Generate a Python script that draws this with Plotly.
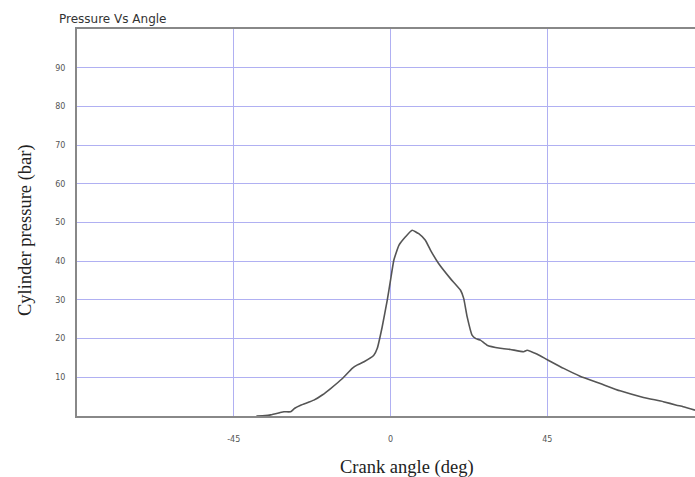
import plotly.graph_objects as go

crank_angle = [-38.5, -36, -34.4, -32, -30.6, -28.7, -27.5, -25.8, -22, -19.5, -17.2, -13.8, -11, -9.5, -7.6,
               -4.8, -3.8, -2.4, -0.95, 0, 0.96, 2.4, 4.3, 6.2, 8.1, 10, 11.5, 13.8, 17.2, 20.1, 21,
               22, 23.4, 24.5, 25.8, 27.7, 31.5, 34.4, 38.2, 39.2, 42, 44.9, 49.7, 54.4, 60.2,
               65.9, 72.6, 78.3, 82.1, 84, 87.4]
pressure = [0, 0.1, 0.3, 0.8, 1.1, 1.1, 2.0, 2.8, 4.1, 5.5, 7.1, 9.7, 12.3, 13.2, 14.0,
            15.7, 17.5, 23, 29.9, 35.1, 40.3, 44.1, 46.3, 48.0, 47.1, 45.4, 42.8, 39.4, 35.5, 32.5, 30.4,
            25.6, 20.9, 20.0, 19.6, 18.3, 17.5, 17.2, 16.6, 17.0, 16.0, 14.6, 12.3, 10.3, 8.4,
            6.5, 4.8, 3.7, 2.8, 2.4, 1.5]

x_ticks = [-45, 0, 45]
y_ticks = [10, 20, 30, 40, 50, 60, 70, 80, 90]

fig = go.Figure()
fig.add_trace(go.Scatter(x=crank_angle, y=pressure, mode="lines",
                         line=dict(color="#555555", width=1.6, shape="spline", smoothing=0.4),
                         showlegend=False))

grid = "#b0b0f2"
fig.update_layout(
    width=695, height=477,
    margin=dict(l=77, r=0, t=29, b=61),
    plot_bgcolor="white", paper_bgcolor="white",
    font=dict(family="DejaVu Sans", size=8, color="#555555"),
    xaxis=dict(range=[-90, 87.4], tickvals=x_ticks, ticktext=[str(v) for v in x_ticks],
               showgrid=True, gridcolor=grid, gridwidth=1, zeroline=False,
               showline=True, linecolor="#888888", linewidth=2, mirror=True,
               ticks="", ticklabelstandoff=14),
    yaxis=dict(range=[0, 100], tickvals=y_ticks, ticktext=[str(v) for v in y_ticks],
               showgrid=True, gridcolor=grid, gridwidth=1, zeroline=False,
               showline=True, linecolor="#888888", linewidth=2,
               ticks="", ticklabelstandoff=8),
    annotations=[
        dict(text="Pressure Vs Angle", xref="paper", yref="paper", x=-0.0317, y=1.0,
             xanchor="left", yanchor="bottom", showarrow=False, yshift=1,
             font=dict(family="DejaVu Sans", size=12, color="#333333")),
        dict(text="Crank angle (deg)", xref="paper", yref="paper", x=(407 - 77) / 618, y=0,
             showarrow=False, xanchor="center", yanchor="middle", yshift=-51,
             font=dict(family="Liberation Serif", size=18.5, color="#222222")),
        dict(text="Cylinder pressure (bar)", xref="paper", yref="paper",
             x=0, y=(416 - 230) / 387, xanchor="center", yanchor="middle",
             xshift=-52, showarrow=False, textangle=-90,
             font=dict(family="Liberation Serif", size=18.5, color="#222222")),
    ],
)
fig.write_html("out.html")
